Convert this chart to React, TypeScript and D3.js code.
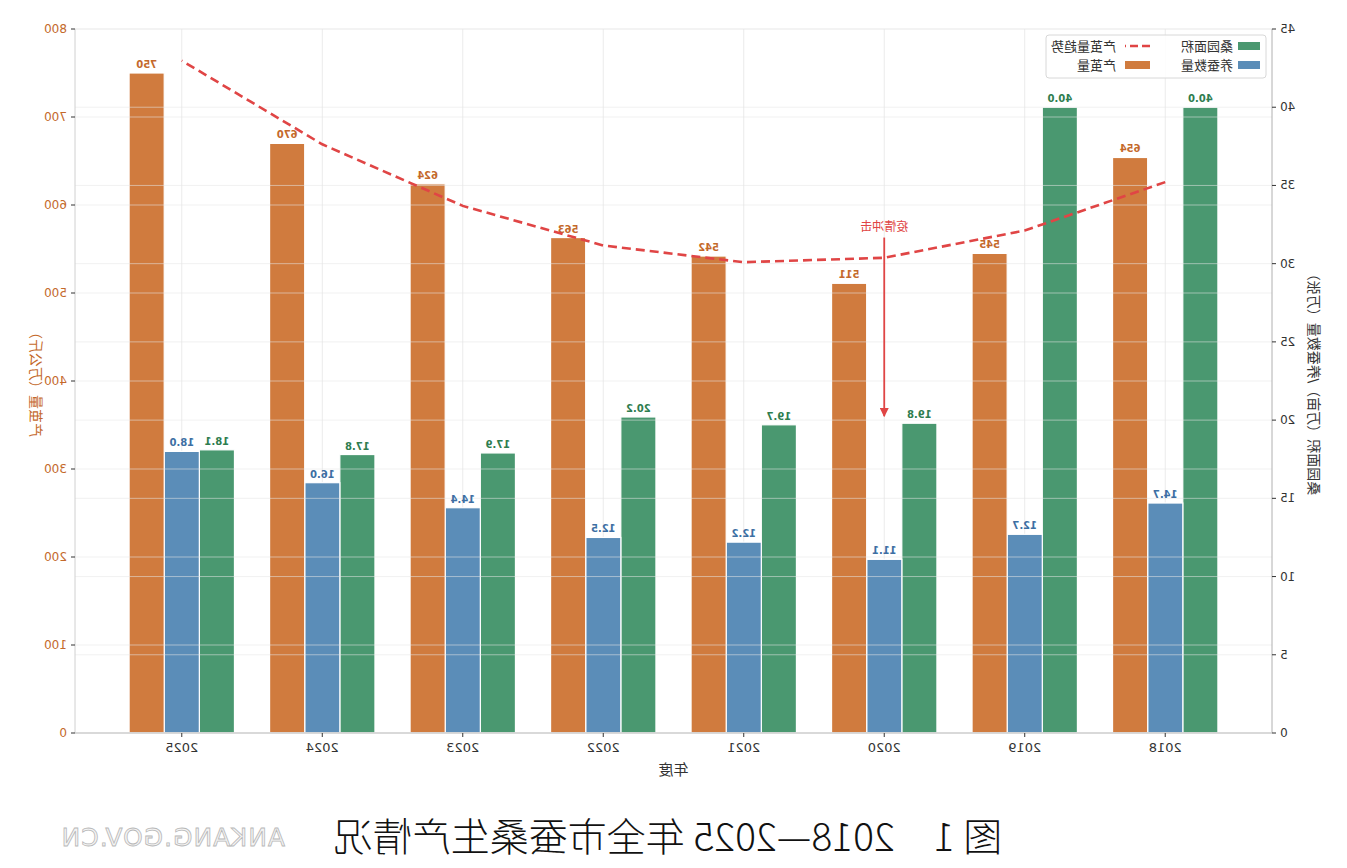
import * as d3 from 'd3';
import React from 'react';

// silkworm / mulberry production chart (drawn mirrored like the source image)

const years = ['2018', '2019', '2020', '2021', '2022', '2023', '2024', '2025'];
const mulberryArea = [40.0, 40.0, 19.8, 19.7, 20.2, 17.9, 17.8, 18.1];
const silkwormBoxes = [14.7, 12.7, 11.1, 12.2, 12.5, 14.4, 16.0, 18.0];
const cocoonOutput = [654, 545, 511, 542, 563, 624, 670, 750];
const outputTrend = [626, 571, 540, 535, 554, 599, 669, 764];
const leftTicks = [0, 5, 10, 15, 20, 25, 30, 35, 40, 45];
const rightTicks = [0, 100, 200, 300, 400, 500, 600, 700, 800];

const W = 1347;
const H = 868;
const plot = { left: 75, right: 1272, top: 29, bottom: 733 };

const C = {
    orange: '#d07b3e',
    blue: '#5b8db8',
    green: '#4a9870',
    orangeText: '#c4692b',
    blueText: '#3d6fa3',
    greenText: '#2e7d4f',
    red: '#e04545',
    axis: '#333',
};

const cjk = '"DejaVu Sans", "Noto Sans CJK SC", sans-serif';

export default () => {
    const x = d3.scaleLinear().domain([-0.76, 7.76]).range([plot.left, plot.right]);
    const yL = d3.scaleLinear().domain([0, 45]).range([plot.bottom, plot.top]);
    const yR = d3.scaleLinear().domain([0, 800]).range([plot.bottom, plot.top]);
    const bw = x(0.25) - x(0);

    const trendLine = d3.line<number>()
        .x((_, i) => x(i))
        .y((d) => yR(d));

    const series = [
        { name: '桑园面积', vals: mulberryArea, off: -0.25, scale: yL, fill: C.green, text: C.greenText, fmt: (v: number) => v.toFixed(1) },
        { name: '养蚕数量', vals: silkwormBoxes, off: 0, scale: yL, fill: C.blue, text: C.blueText, fmt: (v: number) => v.toFixed(1) },
        { name: '产茧量', vals: cocoonOutput, off: 0.25, scale: yR, fill: C.orange, text: C.orangeText, fmt: (v: number) => String(v) },
    ];

    const ax = x(2);

    return (
        <svg width={W} height={H} style={{ position: 'absolute', left: 0, top: 0, background: '#fff' }}>
            <defs>
                <marker id="arr" viewBox="0 0 10 10" refX="9" refY="5" markerWidth="5" markerHeight="5" orient="auto">
                    <path d="M0,0 L10,5 L0,10 z" fill={C.red} />
                </marker>
            </defs>
            <g transform={`translate(${W},0) scale(-1,1)`}>
                <rect x={0} y={0} width={W} height={H} fill="#fff" />

                {/* vertical grid */}
                {years.map((_, i) => (
                    <line key={'vg' + i} x1={x(i)} x2={x(i)} y1={plot.top} y2={plot.bottom} stroke="#ebebeb" strokeWidth={1} />
                ))}

                {/* bars */}
                {series.map((s) => s.vals.map((v, i) => (
                    <rect key={s.name + i} x={x(i + s.off) - bw / 2} y={s.scale(v)} width={bw} height={plot.bottom - s.scale(v)}
                        fill={s.fill} stroke="#fff" strokeWidth={1.2} />
                )))}

                {/* horizontal grid on top */}
                {leftTicks.map((t) => (
                    <line key={'gl' + t} x1={plot.left} x2={plot.right} y1={yL(t)} y2={yL(t)} stroke="#e6e6e6" strokeOpacity={0.55} />
                ))}
                {rightTicks.map((t) => (
                    <line key={'gr' + t} x1={plot.left} x2={plot.right} y1={yR(t)} y2={yR(t)} stroke="#e6e6e6" strokeOpacity={0.55} />
                ))}

                {/* value labels */}
                {series.map((s) => s.vals.map((v, i) => (
                    <text key={'l' + s.name + i} x={x(i + s.off)} y={s.scale(v) - 5} textAnchor="middle"
                        fontFamily={cjk} fontSize={10} fontWeight="bold" fill={s.text}>{s.fmt(v)}</text>
                )))}

                {/* trend */}
                <path d={trendLine(outputTrend) || ''} fill="none" stroke={C.red} strokeWidth={2.6} strokeDasharray="9,5" />

                {/* annotation */}
                <line x1={ax} x2={ax} y1={yR(563)} y2={yR(360)} stroke={C.red} strokeWidth={1.8} markerEnd="url(#arr)" />
                <text x={ax} y={yR(570)} textAnchor="middle" fontFamily={cjk} fontSize={12} fill={C.red}>疫情冲击</text>

                {/* spines */}
                <line x1={plot.left} x2={plot.left} y1={plot.top} y2={plot.bottom} stroke="#b0b0b0" />
                <line x1={plot.right} x2={plot.right} y1={plot.top} y2={plot.bottom} stroke="#d0d0d0" />
                <line x1={plot.left} x2={plot.right} y1={plot.bottom} y2={plot.bottom} stroke="#d0d0d0" strokeWidth={1.5} />

                {/* left axis */}
                {leftTicks.map((t) => (
                    <g key={'lt' + t}>
                        <line x1={plot.left - 4} x2={plot.left} y1={yL(t)} y2={yL(t)} stroke={C.axis} />
                        <text x={plot.left - 8} y={yL(t) + 4} textAnchor="end" fontFamily={cjk} fontSize={12} fill={C.axis}>{t}</text>
                    </g>
                ))}
                <text transform={`translate(38,${(plot.top + plot.bottom) / 2}) rotate(-90)`} textAnchor="middle"
                    fontFamily={cjk} fontSize={14} fill={C.axis}>桑园面积（万亩）/养蚕数量（万张）</text>

                {/* right axis */}
                {rightTicks.map((t) => (
                    <g key={'rt' + t}>
                        <line x1={plot.right} x2={plot.right + 4} y1={yR(t)} y2={yR(t)} stroke={C.axis} />
                        <text x={plot.right + 8} y={yR(t) + 4} textAnchor="start" fontFamily={cjk} fontSize={12} fill={C.orangeText}>{t}</text>
                    </g>
                ))}
                <text transform={`translate(1316,${(plot.top + plot.bottom) / 2}) rotate(-90)`} textAnchor="middle"
                    fontFamily={cjk} fontSize={14} fill={C.orangeText}>产茧量（万公斤）</text>

                {/* x axis */}
                {years.map((yr, i) => (
                    <g key={'x' + yr}>
                        <line x1={x(i)} x2={x(i)} y1={plot.bottom} y2={plot.bottom + 4} stroke={C.axis} />
                        <text x={x(i)} y={plot.bottom + 19} textAnchor="middle" fontFamily={cjk} fontSize={13} fill={C.axis}>{yr}</text>
                    </g>
                ))}
                <text x={(plot.left + plot.right) / 2} y={775} textAnchor="middle" fontFamily={cjk} fontSize={15} fill={C.axis}>年度</text>

                {/* legend */}
                <g>
                    <rect x={81} y={35} width={220} height={43} rx={3} fill="#fff" fillOpacity={0.85} stroke="#d8d8d8" />
                    <rect x={87} y={42} width={22} height={8} fill={C.green} />
                    <text x={114} y={50.5} fontFamily={cjk} fontSize={13} fill={C.axis}>桑园面积</text>
                    <rect x={87} y={61} width={22} height={8} fill={C.blue} />
                    <text x={114} y={69.5} fontFamily={cjk} fontSize={13} fill={C.axis}>养蚕数量</text>
                    <line x1={197} x2={222} y1={46} y2={46} stroke={C.red} strokeWidth={2.6} strokeDasharray="8,4" />
                    <text x={231} y={50.5} fontFamily={cjk} fontSize={13} fill={C.axis}>产茧量趋势</text>
                    <rect x={197} y={61} width={25} height={8} fill={C.orange} />
                    <text x={231} y={69.5} fontFamily={cjk} fontSize={13} fill={C.axis}>产茧量</text>
                </g>

                {/* caption */}
                <text x={679} y={851} textAnchor="middle" fontFamily='"Noto Sans CJK SC", sans-serif' fontSize={39} fontWeight={300} fill="#111">图 1　2018—2025 年全市蚕桑生产情况</text>
                <text x={1062} y={846} fontFamily='"DejaVu Sans", sans-serif' fontSize={25} letterSpacing={1} fill="#f4f4f4" stroke="#b8b8b8" strokeWidth={0.8}>ANKANG.GOV.CN</text>
            </g>
        </svg>
    );
};
